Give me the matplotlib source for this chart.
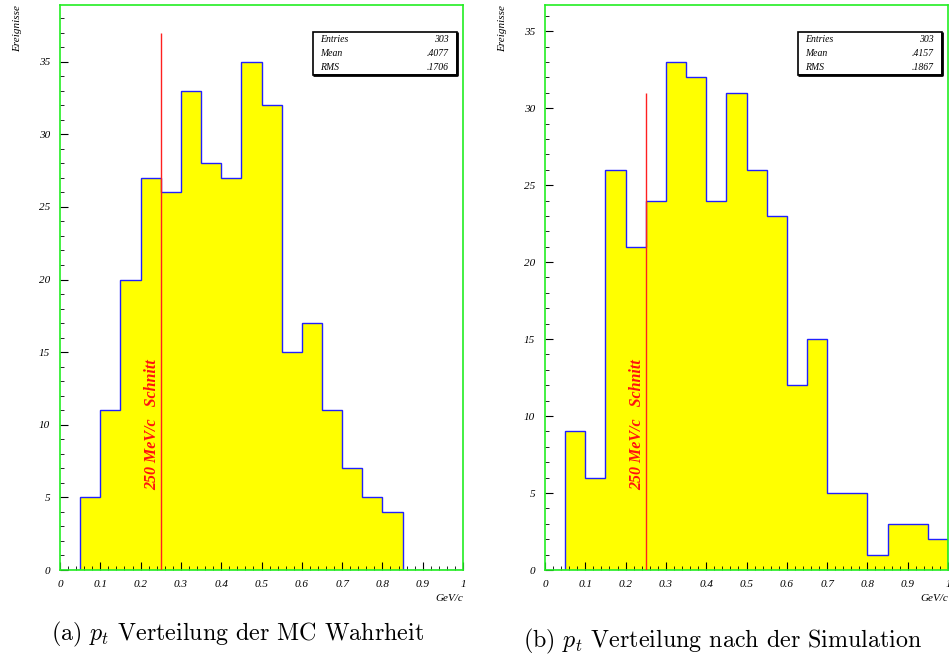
import numpy as np
import matplotlib.pyplot as plt
from matplotlib.ticker import MultipleLocator, FuncFormatter
from matplotlib.patches import Rectangle

plt.rcParams['mathtext.fontset'] = 'cm'

# pt bins of 50 MeV/c from 0 to 1 GeV/c
edges = np.linspace(0, 1, 21)
counts_mc = [0, 5, 11, 20, 27, 26, 33, 28, 27, 35,
             32, 15, 17, 11, 7, 5, 4, 0, 0, 0]
counts_sim = [0, 9, 6, 26, 21, 24, 33, 32, 24, 31,
              26, 23, 12, 15, 5, 5, 1, 3, 3, 2]
stats_mc = [("Entries", "303"), ("Mean", ".4077"), ("RMS", ".1706")]
stats_sim = [("Entries", "303"), ("Mean", ".4157"), ("RMS", ".1867")]
cut = 0.25
captions = [r"(a) $p_t$ Verteilung der MC Wahrheit",
            r"(b) $p_t$ Verteilung nach der Simulation"]

fig = plt.figure(figsize=(9.49, 6.59), dpi=100)
ax1 = fig.add_axes([60/949, 1-570/659, 403/949, 565/659])
ax2 = fig.add_axes([545/949, 1-570/659, 403/949, 565/659])

tick_font = dict(family='Liberation Serif', style='italic', size=8)


def fmt(v, pos):
    if abs(v) < 1e-9:
        return "0"
    if abs(v - round(v)) < 1e-9:
        return "%d" % round(v)
    return ("%.1f" % v)


def draw(ax, counts, ymax, cut_top, stats, text_y, caption, cap_x, cap_y):
    ax.stairs(counts, edges, fill=True, color='#ffff00', zorder=1)
    ax.stairs(counts, edges, color='#2020ff', linewidth=1.0, zorder=2)
    ax.vlines(cut, 0, cut_top, color='#ff2020', linewidth=1.0, zorder=3)
    ax.text(cut - 0.022, text_y, "250 MeV/c   Schnitt", rotation=90,
            color='#ff1010', fontsize=11.5, family='Liberation Serif',
            style='italic', weight='bold', ha='center', va='bottom', zorder=4)

    ax.set_xlim(0, 1)
    ax.set_ylim(0, ymax)
    for s in ax.spines.values():
        s.set_color('#22ee22')
        s.set_linewidth(1.2)
    ax.xaxis.set_major_locator(MultipleLocator(0.1))
    ax.xaxis.set_minor_locator(MultipleLocator(0.02))
    ax.yaxis.set_major_locator(MultipleLocator(5))
    ax.yaxis.set_minor_locator(MultipleLocator(1))
    ax.xaxis.set_major_formatter(FuncFormatter(fmt))
    ax.yaxis.set_major_formatter(FuncFormatter(fmt))
    ax.tick_params(which='both', direction='in', color='black',
                   top=False, right=False)
    ax.tick_params(which='major', length=6, width=0.8, pad=7)
    ax.tick_params(which='minor', length=3, width=0.6)
    for lab in ax.get_xticklabels() + ax.get_yticklabels():
        lab.set_fontfamily('Liberation Serif')
        lab.set_fontstyle('italic')
        lab.set_fontsize(8)

    ax.text(1.0, -0.042, "GeV/c", transform=ax.transAxes, ha='right',
            va='top', **tick_font)
    ax.text(-0.105, 1.0, "Ereignisse", transform=ax.transAxes, rotation=90,
            ha='center', va='top', **tick_font)

    # statistics box with a heavier lower/right edge
    bx0, bx1, by0, by1 = 0.627, 0.985, 0.876, 0.952
    ax.add_patch(Rectangle((bx0, by0), bx1 - bx0, by1 - by0,
                           transform=ax.transAxes, facecolor='white',
                           edgecolor='black', linewidth=1.2, zorder=5))
    ax.plot([bx0, bx1, bx1], [by0, by0, by1], transform=ax.transAxes,
            color='black', linewidth=2.0, zorder=5, solid_capstyle='butt')
    for i, (k, v) in enumerate(stats):
        yy = by1 - (i + 0.5) * (by1 - by0) / 3
        ax.text(bx0 + 0.018, yy, k, transform=ax.transAxes, ha='left',
                va='center', family='Liberation Serif', style='italic',
                size=7, zorder=6)
        ax.text(bx1 - 0.02, yy, v, transform=ax.transAxes, ha='right',
                va='center', family='Liberation Serif', style='italic',
                size=7, zorder=6)

    fig.text(cap_x, cap_y, caption, ha='center', va='center',
             family='cmr10', fontsize=17.3)


draw(ax1, counts_mc, 38.9, 37, stats_mc, 5.5, captions[0],
     238/949, 1 - 634/659)
draw(ax2, counts_sim, 36.7, 31, stats_sim, 5.2, captions[1],
     723/949, 1 - 641/659)

fig.savefig("out.png", dpi=100)
